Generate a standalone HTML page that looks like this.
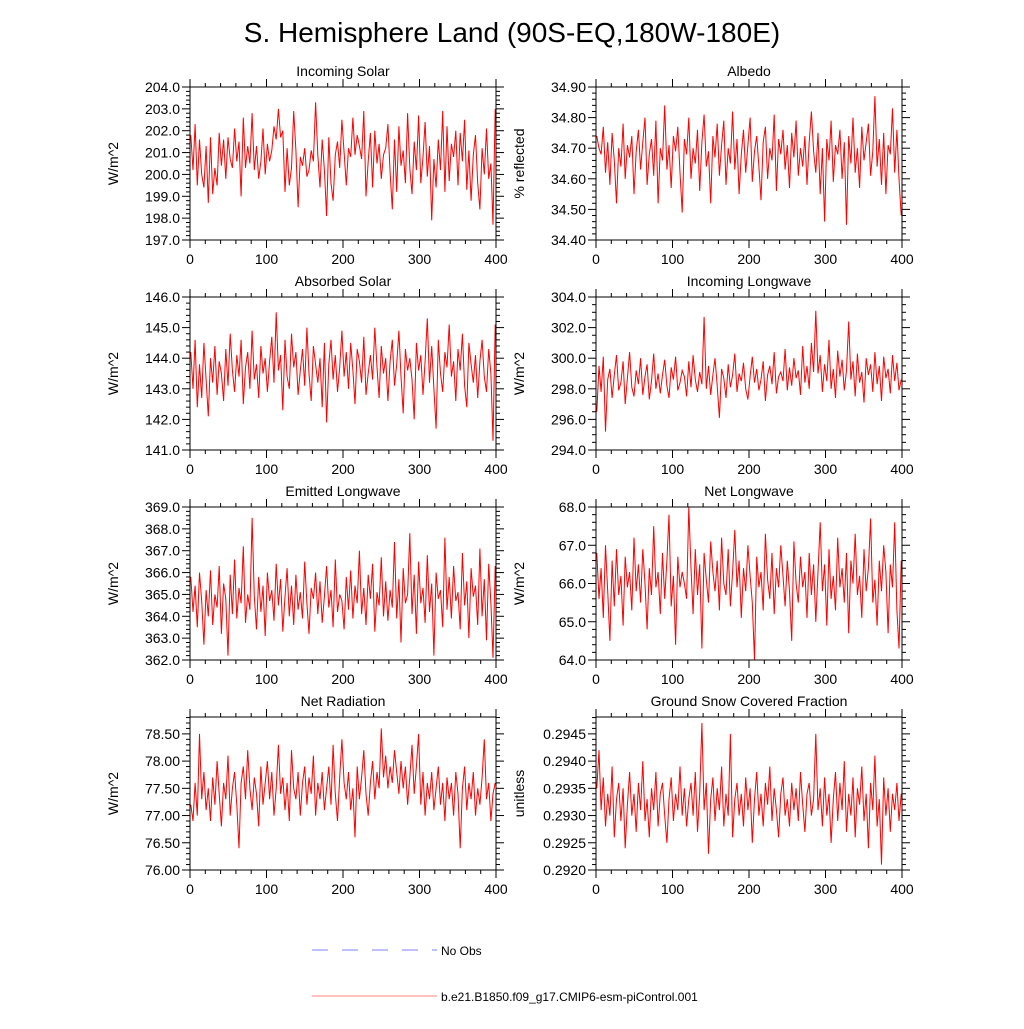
<!DOCTYPE html>
<html><head><meta charset="utf-8"><style>
body{margin:0;background:#fff;}
svg text{font-family:"Liberation Sans",sans-serif;fill:#000;}
</style></head><body>
<svg id="c" width="1024" height="1024" viewBox="0 0 1024 1024" xmlns="http://www.w3.org/2000/svg">
<text x="512" y="42" font-size="28" text-anchor="middle">S. Hemisphere Land (90S-EQ,180W-180E)</text>
<g id="panels"></g>
<g>
<line x1="312" y1="950" x2="437" y2="950" stroke="#8080ff" stroke-width="1" stroke-dasharray="16,14"/>
<text x="441" y="955" font-size="12">No Obs</text>
<line x1="312" y1="996" x2="437" y2="996" stroke="#ff8080" stroke-width="1"/>
<text x="441" y="1001" font-size="12">b.e21.B1850.f09_g17.CMIP6-esm-piControl.001</text>
</g>
</svg>
<script>
const titles=["Incoming Solar","Albedo","Absorbed Solar","Incoming Longwave","Emitted Longwave","Net Longwave","Net Radiation","Ground Snow Covered Fraction"];
const yTitles=["W/m^2","% reflected","W/m^2","W/m^2","W/m^2","W/m^2","W/m^2","unitless"];
const xTicks=[0,100,200,300,400];
const yMins=[197,34.4,141,294,362,64,76,0.292];
const yMaxs=[204,34.9,146,304,369,68,78.81,0.29481];
const yMajor=[1,0.1,1,2,1,1,0.5,0.0005];
const yMinor=[0.2,0.02,0.2,0.5,0.2,0.2,0.1,0.0001];
const yDec=[1,2,1,1,1,1,2,4];
const yTop=[204,34.9,146,304,369,68,78.5,0.2945];
const s1=[201.8,200.2,202.3,199.5,201.6,200.0,199.4,201.3,198.7,201.7,199.1,200.3,199.5,201.9,200.4,201.6,199.8,201.7,200.7,200.3,202.1,200.6,201.5,199.0,202.6,200.3,201.3,200.5,202.8,200.2,201.3,199.8,200.6,202.1,200.0,201.4,200.6,201.1,202.2,201.6,203.0,201.7,202.0,199.2,201.2,199.5,200.3,202.9,201.1,198.5,200.8,200.4,201.2,199.9,200.2,201.1,200.6,203.3,200.9,199.4,201.6,200.2,198.1,201.7,199.6,198.8,200.9,201.5,200.3,202.5,201.0,199.5,201.2,200.8,202.6,200.9,201.8,201.3,200.7,202.9,199.0,200.6,201.9,199.4,202.0,200.5,201.4,199.8,200.9,201.2,202.3,200.1,198.4,201.6,199.2,202.2,200.4,201.1,199.6,202.8];
const s1b=[200.3,199.1,201.5,200.2,202.7,199.6,200.8,202.4,199.9,201.3,197.9,200.7,199.4,201.6,200.2,202.9,199.2,202.2,199.7,201.4,200.8,202.0,199.5,201.9,200.6,202.5,199.3,201.1,198.8,200.9,201.8,199.6,198.4,201.2,200.0,202.1,199.8,200.5,197.7,203.0];
const s2=[34.74,34.70,34.68,34.77,34.62,34.72,34.58,34.75,34.66,34.52,34.70,34.64,34.78,34.60,34.71,34.67,34.74,34.55,34.69,34.76,34.63,34.72,34.80,34.58,34.68,34.73,34.61,34.79,34.52,34.70,34.66,34.84,34.63,34.71,34.57,34.74,34.69,34.77,34.62,34.49,34.73,34.68,34.80,34.60,34.70,34.65,34.76,34.56,34.72,34.81,34.64,34.69,34.52,34.74,34.67,34.78,34.61,34.71,34.79,34.58,34.70,34.65,34.82,34.63,34.73,34.55,34.68,34.76,34.62,34.71,34.80,34.59,34.69,34.74,34.64,34.53,34.72,34.77,34.60,34.70,34.66,34.81,34.56,34.73,34.68,34.76,34.63,34.71,34.57,34.75,34.67,34.79,34.61,34.70,34.64,34.74,34.58,34.72,34.82,34.69];
const s2b=[34.62,34.75,34.55,34.70,34.46,34.73,34.66,34.79,34.59,34.71,34.68,34.76,34.60,34.72,34.45,34.74,34.65,34.80,34.62,34.70,34.57,34.77,34.66,34.72,34.78,34.61,34.69,34.87,34.64,34.73,34.58,34.75,34.55,34.71,34.68,34.83,34.62,34.76,34.60,34.48];
const s3=[144.2,143.0,144.6,142.4,143.8,142.7,144.5,143.3,142.1,144.0,143.2,144.4,142.8,143.9,143.5,142.6,144.3,143.1,144.8,143.6,142.9,144.1,143.4,144.6,142.5,143.7,144.2,143.0,144.9,143.3,143.8,142.7,144.4,143.5,144.0,142.9,143.9,144.7,143.2,145.5,143.6,144.1,142.3,144.6,143.4,143.0,144.8,143.7,144.2,142.8,143.6,144.3,143.1,145.0,143.5,142.6,144.4,143.8,143.2,144.0,142.4,144.5,141.9,143.8,144.6,143.3,144.1,142.9,143.7,144.9,143.4,144.2,143.0,144.5,143.6,142.5,144.3,143.9,143.2,144.7,142.8,143.5,144.1,143.3,145.0,143.7,142.7,144.4,143.5,144.0,142.6,143.9,144.6,143.1,143.8,144.9,143.4,142.2,144.3,143.6];
const s3b=[144.0,143.3,142.0,144.5,143.6,144.1,142.8,143.9,145.3,143.2,144.4,143.0,141.7,144.6,143.5,142.9,144.2,143.7,145.1,143.4,143.9,142.6,144.3,143.6,144.8,143.1,142.4,144.5,143.8,143.2,144.1,142.7,143.9,144.6,143.4,142.9,144.3,143.5,141.3,145.1];
const s4=[296.5,299.5,297.8,300.1,295.2,298.6,299.3,297.4,298.9,300.2,297.9,298.4,299.8,297.0,298.7,300.4,298.1,297.5,299.2,298.3,300.0,297.6,298.8,299.6,297.3,298.5,300.3,298.0,299.0,297.7,298.9,299.9,298.2,297.4,299.4,298.6,300.1,297.9,298.4,299.2,298.8,297.5,299.8,298.1,300.2,298.6,297.8,299.1,298.3,302.7,298.0,299.5,297.6,298.9,300.0,298.2,296.1,299.3,298.7,297.4,299.6,298.1,298.9,300.3,297.8,299.0,298.5,299.7,298.0,297.3,298.8,300.1,298.4,299.3,297.9,298.6,299.8,297.2,298.9,299.5,298.3,300.4,297.7,298.8,299.1,298.5,300.6,297.9,299.4,298.2,300.0,298.7,299.2,297.6,300.8,298.4,299.5,298.0,301.0,299.1];
const s4b=[303.1,299.0,300.2,297.8,299.6,298.5,301.2,298.0,299.3,297.4,300.5,298.8,299.9,297.9,299.2,302.4,298.6,299.8,297.5,300.3,298.4,299.1,297.1,300.0,298.9,299.6,297.8,300.4,298.3,299.5,297.2,300.1,298.7,299.3,297.7,300.2,298.5,299.7,297.9,298.6];
const s5=[365.8,364.2,365.4,363.5,366.0,364.7,362.7,365.2,364.0,366.1,363.6,365.0,364.4,366.3,363.2,365.5,364.8,362.2,365.9,364.1,366.6,363.9,365.3,364.6,367.2,363.7,365.0,364.3,368.5,364.9,363.4,365.8,364.2,365.4,363.1,366.0,364.7,365.2,363.8,366.4,364.5,365.7,363.3,364.9,366.2,364.0,365.4,363.6,365.9,364.3,365.1,363.9,366.5,364.6,363.2,365.3,364.8,366.0,364.1,365.6,363.7,364.9,366.3,364.4,365.2,363.5,366.6,364.2,365.0,364.7,363.4,365.8,364.3,366.1,363.9,365.4,364.6,367.0,364.1,365.3,363.6,365.9,364.8,366.4,363.3,365.1,364.5,366.7,364.0,365.6,363.8,365.2,364.4,367.4,363.9,365.7,362.8,366.2,364.6,365.0];
const s5b=[367.8,364.1,365.9,363.2,366.5,364.6,365.3,363.7,366.8,364.2,365.5,362.2,366.0,364.8,365.2,363.5,367.6,364.3,365.8,363.9,366.3,364.7,365.1,363.4,366.9,364.5,365.6,363.0,366.2,364.9,365.4,363.6,367.1,364.0,365.7,362.9,366.4,364.6,362.1,366.3];
const s6=[66.8,65.6,66.4,65.1,67.0,65.8,64.5,66.6,65.4,66.9,65.7,66.2,64.9,66.7,65.9,66.3,65.3,67.2,65.8,66.5,65.5,66.9,66.0,64.8,66.4,65.7,67.5,65.9,66.3,65.2,66.8,65.6,66.6,67.8,65.4,66.2,64.4,66.7,65.9,66.3,66.0,65.6,68.0,66.4,65.2,66.9,65.7,66.5,64.3,66.8,66.1,65.5,67.1,66.3,65.8,66.6,65.3,67.2,66.0,65.7,66.9,65.4,66.3,67.4,65.9,66.6,65.1,66.4,65.8,67.0,66.2,65.5,64.0,66.7,65.9,66.3,65.3,67.3,66.1,65.6,66.8,65.2,66.4,65.9,67.0,66.2,65.4,66.6,65.8,64.5,67.1,66.0,65.5,66.7,65.9,66.3,65.1,66.8,65.7,66.5];
const s6b=[65.0,66.3,67.6,65.8,66.5,64.9,66.9,65.6,66.2,65.3,67.2,65.9,66.4,65.5,66.8,64.7,66.6,66.0,67.3,65.7,66.2,65.1,66.9,65.8,66.4,67.7,65.5,66.1,64.9,66.6,65.8,67.0,66.3,64.7,66.5,65.9,67.6,65.3,64.3,66.6];
const s7=[77.2,76.9,77.6,77.0,78.5,77.3,77.8,77.1,77.5,76.9,77.7,77.2,78.0,77.4,76.8,77.6,77.3,78.1,77.0,77.5,77.8,77.2,76.4,77.6,77.9,77.3,78.2,77.5,77.1,77.7,77.4,76.8,77.9,77.2,77.6,78.0,77.3,77.8,77.0,77.5,78.3,77.4,77.7,77.1,77.6,76.9,78.2,77.5,77.3,77.8,77.0,77.6,77.9,77.2,77.7,77.4,78.1,77.0,77.6,77.3,77.8,77.1,77.5,77.9,77.2,78.3,77.4,76.9,77.7,78.4,77.6,77.3,77.8,77.1,77.5,76.6,77.9,77.3,77.7,78.2,77.4,77.0,77.6,78.0,77.3,77.8,77.5,78.6,77.7,78.1,77.5,77.9,77.6,78.2,77.8,77.4,78.0,77.5,77.9,77.2];
const s7b=[77.7,78.3,77.4,77.9,78.5,77.2,77.8,77.0,77.6,77.3,77.8,77.1,77.5,77.9,77.2,77.6,76.9,77.7,77.3,77.6,77.0,77.8,77.4,76.4,77.5,77.9,77.1,77.6,77.3,77.8,77.0,77.5,77.2,77.7,78.4,77.3,77.6,76.9,77.4,77.6];
const s8=[0.2935,0.2942,0.2931,0.2937,0.2928,0.2934,0.2930,0.2939,0.2926,0.2933,0.2936,0.2929,0.2935,0.2924,0.2932,0.2938,0.2930,0.2934,0.2927,0.2936,0.2931,0.2940,0.2929,0.2933,0.2926,0.2935,0.2931,0.2938,0.2928,0.2934,0.2936,0.2930,0.2925,0.2933,0.2937,0.2929,0.2934,0.2931,0.2939,0.2930,0.2935,0.2928,0.2933,0.2936,0.2930,0.2938,0.2927,0.2934,0.2947,0.2931,0.2936,0.2923,0.2933,0.2937,0.2929,0.2935,0.2931,0.2939,0.2928,0.2934,0.2930,0.2945,0.2926,0.2933,0.2936,0.2930,0.2934,0.2928,0.2937,0.2931,0.2935,0.2925,0.2933,0.2938,0.2930,0.2934,0.2928,0.2936,0.2932,0.2939,0.2929,0.2935,0.2931,0.2926,0.2934,0.2937,0.2930,0.2933,0.2928,0.2936,0.2931,0.2935,0.2929,0.2938,0.2932,0.2927,0.2934,0.2936,0.2930,0.2933];
const s8b=[0.2945,0.2931,0.2935,0.2928,0.2937,0.2930,0.2934,0.2925,0.2933,0.2938,0.2929,0.2936,0.2931,0.2940,0.2927,0.2934,0.2930,0.2937,0.2926,0.2935,0.2932,0.2939,0.2929,0.2934,0.2924,0.2936,0.2931,0.2941,0.2928,0.2933,0.2921,0.2937,0.2930,0.2935,0.2927,0.2934,0.2931,0.2936,0.2929,0.2934];
const series=[s1.concat(s1b),s2.concat(s2b),s3.concat(s3b),s4.concat(s4b),s5.concat(s5b),s6.concat(s6b),s7.concat(s7b),s8.concat(s8b)];

const NS="http://www.w3.org/2000/svg";
const root=document.getElementById('panels');
function mk(tag,attrs,parent){const e=document.createElementNS(NS,tag);for(const k in attrs)e.setAttribute(k,attrs[k]);parent.appendChild(e);return e;}
const lefts=[190,596], tops=[87,297,507,717], W=306, H=153;
for(let i=0;i<8;i++){
  const L=lefts[i%2], T=tops[Math.floor(i/2)];
  const g=mk('g',{},root);
  
  
  const xs=v=>L+v/400*W;
  const ys=v=>T+H-(v-yMins[i])/(yMaxs[i]-yMins[i])*H;
  const vals=series[i];
  let d='';
  vals.forEach((v,k)=>{d+=(k?'L':'M')+xs(1+k*398/(vals.length-1)).toFixed(1)+','+ys(v).toFixed(1);});
  const p=mk('path',{d:d,fill:'none',stroke:'#ff0000','stroke-width':1},g);
  
  
  const fr=mk('rect',{x:L,y:T,width:W,height:H,fill:'none',stroke:'#000','stroke-width':1},g);
  
  
  for(let v=0;v<=400;v+=20){
    const big=v%100===0, len=big?8:4, x=xs(v);
    mk('line',{x1:x,y1:T+H,x2:x,y2:T+H+len,stroke:'#000'},g);
    mk('line',{x1:x,y1:T,x2:x,y2:T-len,stroke:'#000'},g);
  }
  xTicks.forEach(v=>{
    const t=mk('text',{x:xs(v),y:T+H+24,'font-size':14,'text-anchor':'middle'},g);
    t.textContent=v;
    
    
  });
  const nMin=Math.floor((yMaxs[i]-yMins[i])/yMinor[i]+1e-6);
  for(let k=0;k<=nMin;k++){
    const v=yMins[i]+k*yMinor[i], y=ys(v);
    const r=Math.round((v-yMins[i])/yMajor[i]*1e6)/1e6;
    const big=Math.abs(r-Math.round(r))<1e-6, len=big?8:4;
    mk('line',{x1:L,y1:y,x2:L-len,y2:y,stroke:'#000'},g);
    mk('line',{x1:L+W,y1:y,x2:L+W+len,y2:y,stroke:'#000'},g);
    if(big && v<=yTop[i]+1e-9){
      const t=mk('text',{x:L-10,y:y+5,'font-size':14,'text-anchor':'end'},g);
      t.textContent=v.toFixed(yDec[i]);
      
      
    }
  }
  const tt=mk('text',{x:L+W/2,y:T-11,'font-size':14,'text-anchor':'middle'},g);
  tt.textContent=titles[i];
  
  
  const yx=(i%2?L-72:L-72), yy=T+H/2;
  const yt=mk('text',{x:yx,y:yy,'font-size':14,'text-anchor':'middle',transform:'rotate(-90 '+yx+' '+yy+')'},g);
  yt.textContent=yTitles[i];
  
  
}
</script>
</body></html>
